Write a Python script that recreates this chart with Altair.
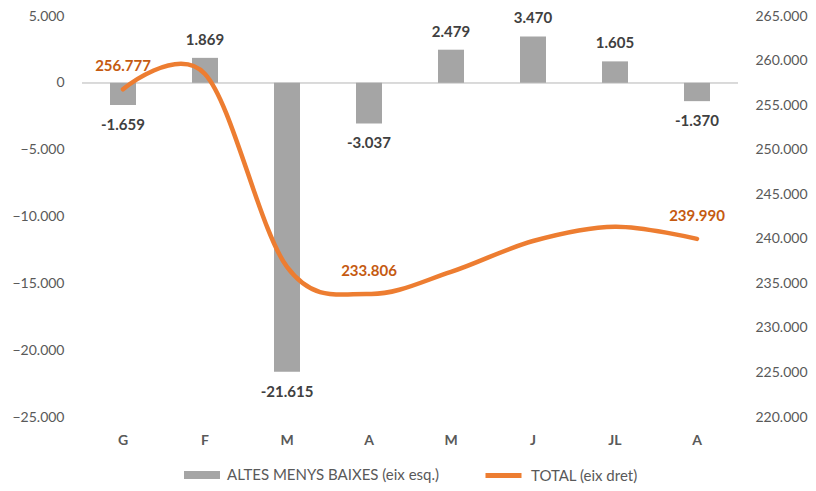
import altair as alt
import pandas as pd

months = ["G", "F", "M", "A", "M ", "J", "JL", "A "]
altes_menys_baixes = [-1659, 1869, -21615, -3037, 2479, 3470, 1605, -1370]
total = [256777, 258500, 236843, 233806, 236285, 239755, 241360, 239990]
total_labels = ["256.777", "", "", "233.806", "", "", "", "239.990"]

bar_name = "ALTES MENYS BAIXES (eix esq.)"
line_name = "TOTAL (eix dret)"

def fmt(v):
    s = f"{abs(v):,}".replace(",", ".")
    return ("-" if v < 0 else "") + s

df = pd.DataFrame({
    "mes": months,
    "amb": altes_menys_baixes,
    "amb_label": [fmt(v) for v in altes_menys_baixes],
    "total": total,
    "total_label": total_labels,
    "s_bar": bar_name,
    "s_line": line_name,
})

FONT = "Lato"
GREY_TXT = "#595959"

x = alt.X("mes:N", sort=months, scale=alt.Scale(paddingInner=0, paddingOuter=0),
          axis=alt.Axis(title=None, labelAngle=0, labelFont=FONT, labelFontSize=14,
                        labelFontWeight="bold", labelColor=GREY_TXT, labelPadding=16,
                        ticks=False, domain=False, grid=False))

y_left = alt.Y("amb:Q", scale=alt.Scale(domain=[-25000, 5000], nice=False),
               axis=alt.Axis(title=None, values=list(range(-25000, 5001, 5000)),
                             labelExpr="replace(format(datum.value, ',d'), ',', '.')",
                             labelFont=FONT, labelFontSize=14, labelColor=GREY_TXT,
                             labelPadding=18, ticks=False, domain=False, grid=False))

base = alt.Chart(df)

bars = base.mark_bar(size=26).encode(
    x=x,
    y=y_left,
    color=alt.Color("s_bar:N", scale=alt.Scale(domain=[bar_name], range=["#A5A5A5"]),
                    legend=alt.Legend(title=None, orient="none", legendX=102, legendY=441,
                                      symbolType="M-1,-0.22L1,-0.22L1,0.22L-1,0.22Z",
                                      symbolSize=1296, symbolStrokeWidth=0,
                                      labelFont=FONT, labelFontSize=15, labelColor=GREY_TXT,
                                      labelOffset=7, labelLimit=400, padding=0)),
)

zero = base.mark_rule(color="#D9D9D9", strokeWidth=1).encode(y=alt.datum(0))

pos_labels = base.transform_filter("datum.amb >= 0").mark_text(
    baseline="bottom", dy=-10, font=FONT, fontSize=15, fontWeight="bold", color="#404040"
).encode(x=x, y=y_left, text="amb_label:N")

neg_labels = base.transform_filter("datum.amb < 0").mark_text(
    baseline="top", dy=13, font=FONT, fontSize=15, fontWeight="bold", color="#404040"
).encode(x=x, y=y_left, text="amb_label:N")

left_layer = alt.layer(zero, bars, pos_labels, neg_labels)

y_right = alt.Y("total:Q", scale=alt.Scale(domain=[220000, 265000], nice=False),
                axis=alt.Axis(title=None, orient="right",
                              values=list(range(220000, 265001, 5000)),
                              labelExpr="replace(format(datum.value, ',d'), ',', '.')",
                              labelFont=FONT, labelFontSize=14, labelColor=GREY_TXT,
                              labelPadding=17, ticks=False, domain=False, grid=False))

line = base.mark_line(interpolate="cardinal", strokeWidth=4.5, strokeCap="round").encode(
    x=x,
    y=y_right,
    stroke=alt.Stroke("s_line:N", scale=alt.Scale(domain=[line_name], range=["#ED7D31"]),
                      legend=alt.Legend(title=None, orient="none", legendX=401, legendY=439,
                                        symbolType="stroke", symbolSize=1296,
                                        symbolStrokeWidth=5,
                                        labelFont=FONT, labelFontSize=15, labelColor=GREY_TXT,
                                        labelOffset=7, labelLimit=400, padding=0)),
)

line_labels = base.transform_filter("datum.total_label != ''").mark_text(
    baseline="middle", dy=-23, font=FONT, fontSize=15, fontWeight="bold", color="#C55A11"
).encode(x=x, y=y_right, text="total_label:N")

right_layer = alt.layer(line, line_labels)

chart = alt.layer(left_layer, right_layer).resolve_scale(
    y="independent", color="independent", stroke="independent"
).properties(
    width=656, height=401,
    autosize=alt.AutoSizeParams(type="none"),
    padding={"left": 74, "top": 8, "right": 70, "bottom": 68},
).configure_view(stroke=None)

chart.save("out.html", embed_options={"renderer": "svg", "actions": False})
